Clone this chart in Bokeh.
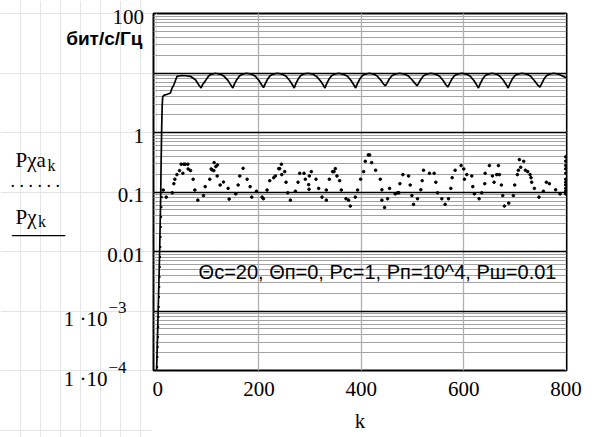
from bokeh.plotting import figure
from bokeh.layouts import row
from bokeh.models import Label, Grid, FixedTicker, Range1d, LinearAxis
from bokeh.embed import file_html
from bokeh.resources import INLINE

# ---------------- data ----------------
# solid curve  P chi_k
line_k = [0, 2, 4, 6, 8, 9, 10, 11, 12, 14, 21, 27, 30, 34, 40, 47, 56, 66, 76, 82, 87,
          90, 95, 100, 105, 115, 125, 132, 139, 144, 149,
          152, 157, 162, 168, 176, 185, 193, 200, 205, 209,
          212, 217, 222, 228, 236, 245, 253, 260, 265, 269,
          272, 277, 282, 288, 296, 305, 313, 320, 325, 329,
          332, 337, 342, 348, 356, 365, 373, 380, 385, 389,
          392, 397, 402, 408, 416, 424, 431, 438, 443, 447,
          450, 455, 460, 466, 475, 484, 492, 499, 505, 509,
          512, 517, 522, 528, 536, 545, 553, 560, 565, 569,
          572, 577, 582, 588, 596, 605, 613, 620, 625, 629,
          632, 637, 642, 648, 655, 664, 671, 678, 683, 687,
          690, 695, 700, 706, 714, 723, 731, 738, 744, 749,
          752, 757, 762, 768, 776, 785, 792, 800]
line_v = [1e-4, 4e-4, 2e-3, 0.01, 0.08, 0.35, 1.2, 2.8, 4.0, 4.2, 4.4, 4.6, 5.5, 6.4, 8.8, 9.0, 9.0, 8.8, 7.7, 6.4, 5.6,
          6.4, 7.3, 8.5, 9.4, 9.9, 9.5, 8.8, 7.6, 6.5, 5.6,
          6.5, 7.8, 8.9, 9.6, 9.9, 9.6, 8.8, 7.5, 6.4, 5.7,
          6.5, 7.9, 9.0, 9.6, 9.9, 9.6, 8.8, 7.5, 6.4, 5.6,
          6.6, 8.0, 9.1, 9.7, 9.9, 9.6, 8.7, 7.4, 6.4, 5.6,
          6.5, 7.9, 9.0, 9.6, 9.9, 9.5, 8.8, 7.5, 6.4, 5.6,
          6.5, 7.9, 9.0, 9.6, 9.9, 9.6, 8.9, 7.6, 6.6, 6.1,
          6.7, 8.0, 9.0, 9.6, 9.9, 9.6, 8.9, 7.7, 6.7, 6.1,
          6.7, 8.0, 9.0, 9.6, 9.9, 9.6, 8.8, 7.5, 6.4, 5.8,
          6.5, 7.9, 9.0, 9.6, 9.9, 9.6, 8.8, 7.5, 6.4, 5.6,
          6.5, 7.9, 9.0, 9.6, 9.9, 9.6, 8.8, 7.5, 6.4, 5.6,
          6.5, 7.9, 9.0, 9.6, 9.9, 9.6, 8.8, 7.5, 6.4, 5.8,
          6.5, 7.9, 9.0, 9.6, 9.9, 9.6, 9.0, 8.3]

# dotted series  P chi a_k : start (steep rise, dotted line)
rise_k = [1, 4, 7, 9, 10.5]
rise_v = [1.1e-4, 1e-3, 0.01, 0.045, 0.1]

# dotted series : scattered points
dots_k = [13, 18.9, 30.6, 33.8, 35.7, 39.7, 44.9, 48.1, 51.4, 53.3, 55.9, 61.1, 61.8, 66.3, 71.5, 74.8, 80.6,
          91.7, 95, 104, 106.7, 108.6, 111.9, 112.5, 115.8, 118.4, 119, 124.2, 130.7, 139.8, 141.8, 154.8,
          159.4, 162.6, 169.1, 176.9, 182.8, 186, 195.1,
          206.2, 208.8, 215.9, 221.1, 228.9, 232.2, 238.7, 240.6, 243.9, 244.6, 250.4, 253, 256.3, 261.5,
          271.2, 276.4, 279.7, 288.1, 290.7, 297.2, 297.9, 298.5, 302.4, 311.5, 316.7, 323.3, 331.7, 331.7,
          337.6, 344, 346.7, 349.3, 352.5, 357.7, 361, 370.1, 375.3, 378.5, 388.3, 392.8, 398.7,
          404.6, 407.8, 413.7, 416.3, 420.2, 428, 437.1, 440.3, 440.3, 445.5, 451.4, 455.3, 466.3, 470.9,
          473.5, 475.4, 481.3, 492.4, 495.6, 498.9, 502.1, 509.9, 516.4, 519, 521.6, 533.3, 542.4, 545.7,
          548.9, 557.4, 563.9, 570.4, 575, 577.6, 583.4, 595.1, 600.3, 601.6, 606.2,
          615.9, 617.9, 621.1, 630.2, 635.4, 641.3, 642, 650.4, 656.3, 659.5, 664.7, 669.9, 668, 673.8,
          676.4, 679.7, 688.1, 697.2, 699.8, 705, 707, 708.9, 711.5, 717.4, 720.6, 725.2, 729.8, 731.7,
          733, 738.2, 747.3, 755.8, 761.6, 767.5, 779.8, 788.3,
          799.5, 799.5, 799.5, 799.5, 799.5, 799.5, 799.5, 799.5, 799.5, 799.5, 799.5]
dots_v = [0.108, 0.082, 0.097, 0.138, 0.164, 0.196, 0.229, 0.293, 0.206, 0.293, 0.293, 0.293, 0.244, 0.229,
          0.164, 0.108, 0.073, 0.087, 0.123, 0.164, 0.244, 0.235, 0.229, 0.312, 0.267, 0.186, 0.285, 0.131,
          0.147, 0.115, 0.076, 0.093, 0.131, 0.186, 0.25, 0.164, 0.123, 0.082, 0.103,
          0.082, 0.077, 0.108, 0.155, 0.174, 0.186, 0.247, 0.247, 0.293, 0.196, 0.22, 0.146, 0.097, 0.073,
          0.103, 0.146, 0.206, 0.206, 0.164, 0.133, 0.111, 0.186, 0.22, 0.164, 0.115, 0.082, 0.073, 0.108,
          0.164, 0.22, 0.22, 0.247, 0.186, 0.155, 0.108, 0.077, 0.073, 0.058, 0.082, 0.108, 0.164,
          0.22, 0.328, 0.42, 0.42, 0.312, 0.232, 0.164, 0.109, 0.073, 0.055, 0.077, 0.115, 0.093, 0.097,
          0.097, 0.138, 0.196, 0.186, 0.131, 0.087, 0.062, 0.077, 0.109, 0.155, 0.232, 0.206, 0.206, 0.146,
          0.097, 0.077, 0.062, 0.077, 0.115, 0.174, 0.232, 0.278, 0.244, 0.164, 0.196,
          0.186, 0.123, 0.093, 0.077, 0.097, 0.138, 0.206, 0.278, 0.186, 0.146, 0.196, 0.196, 0.278, 0.131,
          0.087, 0.058, 0.065, 0.087, 0.131, 0.196, 0.232, 0.35, 0.26, 0.328, 0.232, 0.22, 0.196, 0.174,
          0.146, 0.115, 0.082, 0.103, 0.146, 0.138, 0.109, 0.093,
          0.39, 0.33, 0.28, 0.245, 0.206, 0.164, 0.146, 0.131, 0.115, 0.103, 0.093]

x_ticks = [0, 200, 400, 600, 800]
x_tick_labels = ["0", "200", "400", "600", "800"]
y_ticks_plain = [100, 1, 0.1, 0.01]
y_tick_plain_labels = ["100", "1", "0.1", "0.01"]
y_ticks_pow = [1e-3, 1e-4]
y_tick_pow_exps = ["\u22123", "\u22124"]
y_major = [1e-3, 1e-2, 1e-1, 1, 10]
units_label = "бит/с/Гц"
x_label = "k"
legend_top = ("Pχa", "k")
legend_bottom = ("Pχ", "k")
params_text = "Θc=20, Θп=0, Pc=1, Pп=10^4, Pш=0.01"

# ---------------- layout geometry ----------------
SERIF = "Liberation Serif"
SANS = "Liberation Sans"
W, H = 595, 437
LEFT_W = 152                  # text column left of the plot
MAIN_W = W - LEFT_W
B_L, B_R, B_T = 1, 29, 13
FRAME_H = 357
B_B = H - B_T - FRAME_H
X0, X1 = -6, 801
Y0, Y1 = 1e-4, 100
dec = FRAME_H / 6.0                       # pixels per decade
LIFT = 8                                  # empirical baseline correction (px)


def lab(f, x, y, text, xo, yo, size, align="left", font=SERIF, style="normal"):
    f.add_layout(Label(x=x, y=y, text=text, x_offset=xo, y_offset=yo + LIFT * size / 20.0,
                       text_font=font, text_font_size=f"{size}px", text_font_style=style,
                       text_align=align, text_baseline="alphabetic", text_color="black"))


# ---------------- main plot ----------------
p = figure(width=MAIN_W, height=H, output_backend="svg", toolbar_location=None, title=None,
           x_range=Range1d(X0, X1), y_range=Range1d(Y0, Y1), y_axis_type="log",
           x_axis_location=None, y_axis_location=None,
           min_border_left=B_L, min_border_right=B_R, min_border_top=B_T, min_border_bottom=B_B)
p.frame_align = False
p.background_fill_color = "white"
p.border_fill_color = "white"
p.outline_line_color = "black"
p.outline_line_width = 2

xaxis = LinearAxis(ticker=FixedTicker(ticks=x_ticks),
                   major_label_overrides={v: t for v, t in zip(x_ticks, x_tick_labels)},
                   axis_label=x_label, axis_line_color=None,
                   major_tick_in=0, major_tick_out=0, minor_tick_in=0, minor_tick_out=0,
                   major_label_standoff=11, axis_label_standoff=10,
                   major_label_text_font=SERIF, major_label_text_font_size="21px",
                   major_label_text_color="black",
                   axis_label_text_font=SERIF, axis_label_text_font_size="21px",
                   axis_label_text_font_style="normal", axis_label_text_color="black")
p.add_layout(xaxis, "below")

minor = [m * 10.0 ** e for e in range(-4, 2) for m in range(2, 10)]
p.add_layout(Grid(dimension=1, ticker=FixedTicker(ticks=minor),
                  grid_line_color="#a2a2a2", grid_line_width=1))
p.add_layout(Grid(dimension=0, ticker=FixedTicker(ticks=[200, 400, 600]),
                  grid_line_color="#b0b0b0", grid_line_width=1.3))
p.add_layout(Grid(dimension=1, ticker=FixedTicker(ticks=y_major),
                  grid_line_color="black", grid_line_width=1.5))

p.line(line_k, line_v, line_color="black", line_width=1.7)
p.line(rise_k, rise_v, line_color="black", line_width=2, line_dash="2 8")
p.scatter(dots_k, dots_v, marker="circle", size=2.6, color="black")

lab(p, 0, 0.01, params_text, 42, -28, 20, font=SANS)

# ---------------- left text column (same log mapping as the plot) ----------------
left_y = Range1d(Y0 * 10 ** (-B_B / dec), Y1 * 10 ** (B_T / dec))
left = figure(width=LEFT_W, height=H, output_backend="svg", toolbar_location=None, title=None,
              x_range=Range1d(0, LEFT_W), y_range=left_y, y_axis_type="log",
              x_axis_location=None, y_axis_location=None, min_border=0)
left.frame_align = False
left.outline_line_color = None
left.background_fill_color = "white"
left.border_fill_color = "white"

for v, t in zip(y_ticks_plain, y_tick_plain_labels):
    lab(left, 143.5, v, t, 0, -11.8, 21, align="right")
for v, e in zip(y_ticks_pow, y_tick_pow_exps):
    lab(left, 107, v, "1 ·10", 0, -16.5, 21, align="right")
    lab(left, 108, v, e, 0, -3.5, 17)
lab(left, 142, 100, units_label, 0, -33, 19, align="right", font=SANS, style="bold")

lab(left, 15, 1, legend_top[0], 0, -36.2, 21)
lab(left, 47, 1, legend_top[1], 0, -39.2, 16)
lab(left, 10, 1, ". . . . . .", 0, -56, 18)
lab(left, 15, 1, legend_bottom[0], 0, -93.2, 21)
lab(left, 37.5, 1, legend_bottom[1], 0, -95.2, 16)
lab(left, 11.5, 1, "——", 0, -111, 26.5)

layout = row(left, p, spacing=0)
open("out.html", "w").write(file_html(layout, INLINE))
